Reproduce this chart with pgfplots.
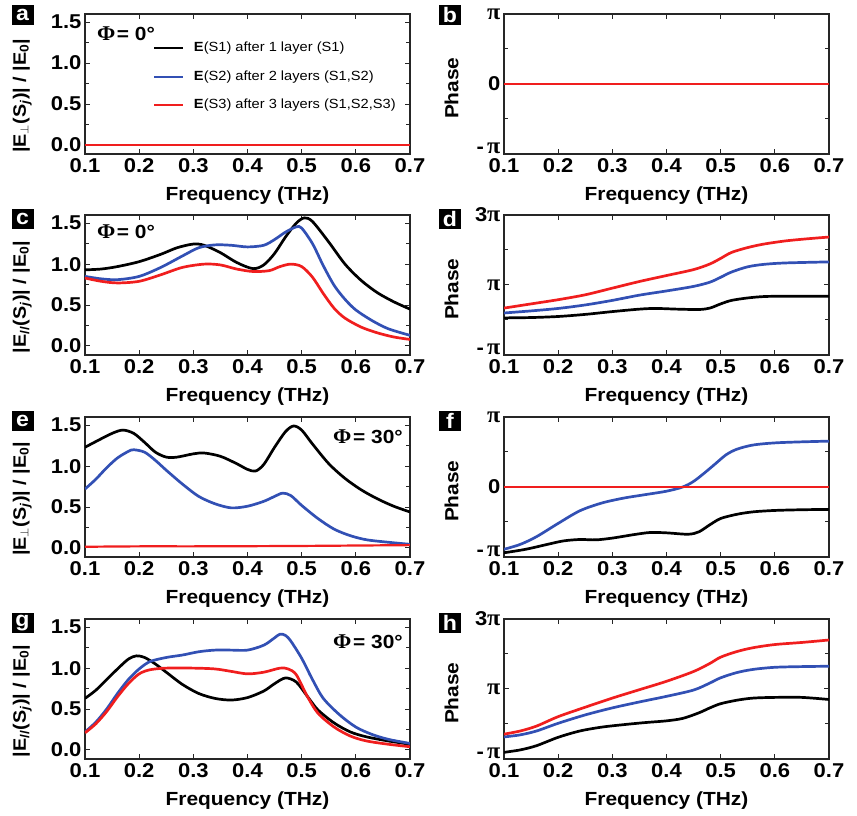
\documentclass[border=0pt]{standalone}
\usepackage{pgfplots}
\pgfplotsset{compat=1.18}
\usepackage{fontspec}
\setmainfont{Liberation Sans}[FakeStretch=1.1]
\newfontfamily\serifphi{Liberation Serif}[FakeStretch=1.05]
\definecolor{cblue}{RGB}{50,80,180}
\definecolor{cred}{RGB}{240,30,30}
\newcommand\tfont{\fontsize{20}{22}\selectfont\bfseries}
\newcommand\lfont{\fontsize{19}{21}\selectfont\bfseries}
\newcommand\yfont{\fontsize{18}{20}\selectfont\bfseries}
\newcommand\pii{{\fontsize{23}{23}\serifphi\bfseries π}}
\pgfplotsset{
  panel/.style={
    scale only axis, width=325pt, height=140pt,
    xmin=0.1, xmax=0.7, xtick={0.1,0.2,0.3,0.4,0.5,0.6,0.7},
    axis line style={line width=1.2pt, black!85},
    tick style={line width=1pt, black!85},
    major tick length=5pt, minor tick length=4pt, tick align=inside,
    ticklabel style={font=\tfont},
    xticklabel style={yshift=-3pt, inner sep=1pt},
    /pgf/number format/fixed, /pgf/number format/fixed zerofill,
    /pgf/number format/precision=1, /pgf/number format/assume math mode=true,
    xlabel={Frequency (THz)},
    xlabel style={font=\lfont, at={(axis description cs:0.5,-0.3)}, anchor=center},
    every axis plot/.append style={line width=2.7pt, smooth, no markers},
  },
  amp/.style={panel, ymin=-0.11, ymax=1.6, ytick={0,0.5,1,1.5}, minor y tick num=1,
    ylabel style={font=\yfont, at={(axis description cs:-0.193,0.415)}, anchor=center}},
  phs1/.style={panel, ymin=-1, ymax=1, ytick={-1,0,1}, minor ytick={-0.5,0.5},
    yticklabels={{\raisebox{3pt}[0.5\height][0pt]{-\,\pii}},{0},{\pii}}, ylabel={Phase},
    ylabel style={font=\lfont, at={(axis description cs:-0.1615,0.47)}, anchor=center}},
  phs3/.style={panel, ymin=-1, ymax=3, ytick={-1,1,3}, minor ytick={0,2},
    yticklabels={{\raisebox{3pt}[0.5\height][0pt]{-\,\pii}},{\pii},{3\pii}}, ylabel={Phase},
    ylabel style={font=\lfont, at={(axis description cs:-0.1615,0.47)}, anchor=center}},
}
\tikzset{
  plab/.style={fill=black, text=white, font=\fontsize{21}{21}\selectfont\bfseries,
    minimum width=22pt, minimum height=20pt, inner sep=0pt},
}
\newcommand\phitext[1]{{\fontsize{21}{21}\serifphi\bfseries Φ}\,{\fontsize{19}{21}\selectfont\bfseries = #1°}}
\begin{document}
\begin{tikzpicture}
\useasboundingbox (0pt,0pt) rectangle (857pt,816pt);
% ---------- a ----------
\begin{axis}[amp, at={(85pt,662pt)}, anchor=south west,
  ylabel={|E\textsubscript{$\perp$}(S\textsubscript{\textit{j}})| / |E\textsubscript{0}|},
  legend image code/.code={\draw[#1, line width=1.8pt] (0pt,0pt) -- (29pt,0pt);},
  legend style={draw=none, fill=none, at={(axis description cs:0.2,0.835)}, anchor=north west,
    font=\fontsize{13.3}{15}\selectfont, row sep=10.5pt,
    nodes={inner sep=2pt, text height=10.5pt, text depth=3.5pt},
    /tikz/every odd column/.append style={column sep=8pt}},
  legend cell align=left]
\addplot[black] coordinates {(0.1,0) (0.7,0)};
\addlegendentry{\textbf{E}(S1) after 1 layer (S1)}
\addplot[cblue] coordinates {(0.1,0) (0.7,0)};
\addlegendentry{\textbf{E}(S2) after 2 layers (S1,S2)}
\addplot[cred] coordinates {(0.1,0) (0.7,0)};
\addlegendentry{\textbf{E}(S3) after 3 layers (S1,S2,S3)}
\end{axis}
% ---------- b ----------
\begin{axis}[phs1, at={(504pt,662pt)}, anchor=south west]
\addplot[black] coordinates {(0.1,0) (0.7,0)};
\addplot[cblue] coordinates {(0.1,0) (0.7,0)};
\addplot[cred] coordinates {(0.1,0) (0.7,0)};
\end{axis}
% ---------- c ----------
\begin{axis}[amp, at={(85pt,461pt)}, anchor=south west,
  ylabel={|E\textsubscript{//}(S\textsubscript{\textit{j}})| / |E\textsubscript{0}|}]
\addplot[black] coordinates {(0.10,0.93) (0.13,0.94) (0.16,0.97) (0.20,1.03) (0.24,1.12) (0.27,1.20) (0.30,1.245) (0.32,1.23) (0.35,1.14) (0.38,1.02) (0.41,0.945) (0.43,0.99) (0.45,1.13) (0.47,1.33) (0.49,1.50) (0.505,1.565) (0.52,1.52) (0.55,1.27) (0.58,1.00) (0.61,0.80) (0.64,0.65) (0.67,0.54) (0.70,0.45)};
\addplot[cblue] coordinates {(0.10,0.85) (0.13,0.82) (0.16,0.81) (0.20,0.85) (0.24,0.96) (0.28,1.10) (0.31,1.20) (0.34,1.235) (0.37,1.23) (0.40,1.21) (0.43,1.23) (0.45,1.30) (0.47,1.39) (0.49,1.455) (0.50,1.44) (0.52,1.25) (0.54,0.98) (0.56,0.74) (0.58,0.57) (0.60,0.44) (0.63,0.31) (0.66,0.21) (0.70,0.13)};
\addplot[cred] coordinates {(0.10,0.83) (0.13,0.79) (0.16,0.77) (0.20,0.79) (0.24,0.87) (0.28,0.96) (0.32,1.00) (0.35,0.99) (0.38,0.94) (0.41,0.91) (0.44,0.92) (0.46,0.97) (0.48,1.00) (0.50,0.97) (0.52,0.84) (0.54,0.64) (0.56,0.46) (0.58,0.34) (0.61,0.23) (0.64,0.16) (0.67,0.11) (0.70,0.08)};
\end{axis}
% ---------- d ----------
\begin{axis}[phs3, at={(504pt,461pt)}, anchor=south west]
\addplot[black] coordinates {(0.10,0.06) (0.15,0.07) (0.20,0.10) (0.25,0.16) (0.30,0.24) (0.35,0.31) (0.38,0.33) (0.42,0.31) (0.46,0.30) (0.48,0.34) (0.50,0.46) (0.52,0.56) (0.55,0.63) (0.58,0.67) (0.62,0.68) (0.70,0.68)};
\addplot[cblue] coordinates {(0.10,0.20) (0.15,0.26) (0.20,0.33) (0.25,0.43) (0.30,0.56) (0.35,0.71) (0.40,0.83) (0.45,0.96) (0.48,1.08) (0.50,1.22) (0.52,1.37) (0.55,1.52) (0.58,1.59) (0.62,1.63) (0.70,1.66)};
\addplot[cred] coordinates {(0.10,0.34) (0.15,0.46) (0.20,0.58) (0.25,0.72) (0.30,0.91) (0.35,1.10) (0.40,1.27) (0.45,1.44) (0.48,1.60) (0.50,1.76) (0.52,1.93) (0.55,2.07) (0.58,2.17) (0.62,2.26) (0.66,2.32) (0.70,2.37)};
\end{axis}
% ---------- e ----------
\begin{axis}[amp, at={(85pt,259pt)}, anchor=south west,
  ylabel={|E\textsubscript{$\perp$}(S\textsubscript{\textit{j}})| / |E\textsubscript{0}|}]
\addplot[black] coordinates {(0.10,1.23) (0.12,1.30) (0.15,1.40) (0.17,1.44) (0.19,1.40) (0.21,1.29) (0.23,1.17) (0.25,1.11) (0.27,1.11) (0.30,1.15) (0.32,1.16) (0.35,1.12) (0.38,1.03) (0.40,0.96) (0.415,0.94) (0.43,1.02) (0.45,1.23) (0.47,1.42) (0.485,1.49) (0.50,1.44) (0.52,1.27) (0.55,1.03) (0.58,0.85) (0.61,0.71) (0.64,0.60) (0.67,0.51) (0.70,0.44)};
\addplot[cblue] coordinates {(0.10,0.72) (0.12,0.84) (0.14,0.98) (0.16,1.10) (0.18,1.18) (0.19,1.20) (0.21,1.17) (0.23,1.07) (0.25,0.95) (0.28,0.78) (0.31,0.63) (0.34,0.54) (0.37,0.49) (0.40,0.51) (0.43,0.57) (0.45,0.63) (0.465,0.67) (0.48,0.64) (0.50,0.52) (0.53,0.36) (0.56,0.23) (0.59,0.15) (0.62,0.10) (0.66,0.07) (0.70,0.045)};
\addplot[cred, line width=2.2pt] coordinates {(0.10,0.015) (0.2,0.02) (0.3,0.02) (0.4,0.022) (0.5,0.025) (0.6,0.03) (0.7,0.035)};
\end{axis}
% ---------- f ----------
\begin{axis}[phs1, at={(504pt,259pt)}, anchor=south west]
\addplot[black] coordinates {(0.10,-0.94) (0.14,-0.89) (0.18,-0.82) (0.21,-0.77) (0.24,-0.75) (0.27,-0.755) (0.30,-0.73) (0.34,-0.68) (0.37,-0.65) (0.40,-0.655) (0.44,-0.675) (0.46,-0.64) (0.48,-0.54) (0.50,-0.45) (0.53,-0.39) (0.56,-0.355) (0.60,-0.335) (0.65,-0.325) (0.70,-0.32)};
\addplot[cblue] coordinates {(0.10,-0.89) (0.13,-0.82) (0.16,-0.71) (0.20,-0.52) (0.24,-0.34) (0.28,-0.23) (0.32,-0.16) (0.36,-0.11) (0.40,-0.06) (0.43,0.00) (0.45,0.08) (0.47,0.20) (0.49,0.33) (0.51,0.46) (0.53,0.54) (0.56,0.60) (0.60,0.63) (0.65,0.645) (0.70,0.655)};
\addplot[cred] coordinates {(0.1,0) (0.7,0)};
\end{axis}
% ---------- g ----------
\begin{axis}[amp, at={(85pt,57pt)}, anchor=south west,
  ylabel={|E\textsubscript{//}(S\textsubscript{\textit{j}})| / |E\textsubscript{0}|}]
\addplot[black] coordinates {(0.10,0.63) (0.12,0.73) (0.14,0.86) (0.16,0.99) (0.18,1.11) (0.195,1.15) (0.21,1.13) (0.23,1.05) (0.25,0.95) (0.28,0.80) (0.31,0.69) (0.34,0.63) (0.37,0.61) (0.40,0.64) (0.43,0.72) (0.45,0.81) (0.47,0.88) (0.49,0.83) (0.51,0.66) (0.53,0.49) (0.56,0.33) (0.59,0.22) (0.62,0.16) (0.66,0.11) (0.70,0.07)};
\addplot[cblue] coordinates {(0.10,0.22) (0.12,0.34) (0.14,0.50) (0.16,0.69) (0.18,0.86) (0.20,0.99) (0.22,1.08) (0.25,1.13) (0.28,1.16) (0.31,1.20) (0.34,1.22) (0.37,1.22) (0.40,1.22) (0.43,1.28) (0.45,1.37) (0.46,1.415) (0.47,1.40) (0.48,1.33) (0.50,1.12) (0.52,0.86) (0.54,0.63) (0.57,0.43) (0.60,0.28) (0.63,0.19) (0.66,0.13) (0.70,0.08)};
\addplot[cred] coordinates {(0.10,0.21) (0.12,0.32) (0.14,0.47) (0.16,0.65) (0.18,0.81) (0.20,0.93) (0.22,0.98) (0.25,1.00) (0.30,1.00) (0.34,0.99) (0.37,0.96) (0.40,0.93) (0.43,0.95) (0.46,1.00) (0.475,0.99) (0.49,0.92) (0.51,0.66) (0.53,0.45) (0.56,0.28) (0.59,0.17) (0.62,0.11) (0.66,0.07) (0.70,0.04)};
\end{axis}
% ---------- h ----------
\begin{axis}[phs3, at={(504pt,57pt)}, anchor=south west]
\addplot[black] coordinates {(0.10,-0.81) (0.13,-0.74) (0.16,-0.62) (0.20,-0.38) (0.24,-0.20) (0.28,-0.09) (0.32,-0.02) (0.36,0.04) (0.40,0.09) (0.43,0.16) (0.46,0.32) (0.48,0.46) (0.50,0.58) (0.53,0.68) (0.56,0.74) (0.60,0.76) (0.65,0.76) (0.70,0.70)};
\addplot[cblue] coordinates {(0.10,-0.37) (0.13,-0.31) (0.16,-0.20) (0.20,0.02) (0.25,0.26) (0.30,0.46) (0.35,0.63) (0.40,0.79) (0.45,0.97) (0.48,1.17) (0.50,1.32) (0.53,1.47) (0.56,1.56) (0.60,1.62) (0.65,1.64) (0.70,1.65)};
\addplot[cred] coordinates {(0.10,-0.29) (0.13,-0.20) (0.16,-0.06) (0.20,0.21) (0.25,0.48) (0.30,0.74) (0.35,0.98) (0.40,1.22) (0.45,1.50) (0.48,1.73) (0.50,1.91) (0.53,2.07) (0.56,2.18) (0.60,2.27) (0.65,2.33) (0.70,2.40)};
\end{axis}
% ---------- panel letters and annotations ----------
\node[plab] at (22.5pt,801pt) {a};
\node[plab] at (22.5pt,597pt) {c};
\node[plab] at (22.5pt,395pt) {e};
\node[plab] at (22.5pt,193pt) {g};
\node[plab] at (450pt,801pt) {b};
\node[plab] at (450pt,597pt) {d};
\node[plab] at (450pt,395pt) {f};
\node[plab] at (450pt,193pt) {h};
\node at (126pt,782pt) {\phitext{0}};
\node at (126pt,584pt) {\phitext{0}};
\node at (368pt,379pt) {\phitext{30}};
\node at (368pt,174pt) {\phitext{30}};
\end{tikzpicture}
\end{document}
